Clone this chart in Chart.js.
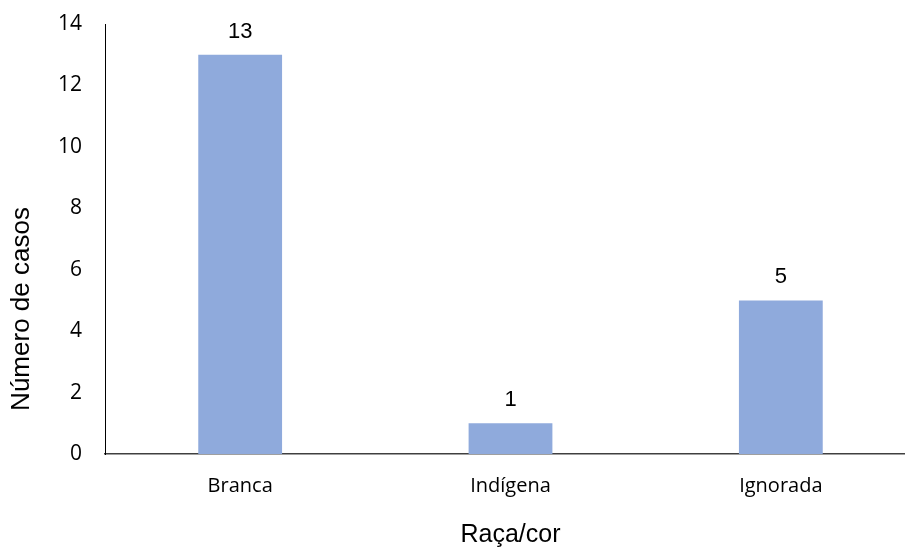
<!DOCTYPE html>
<html>
<head>
<meta charset="utf-8">
<script src="https://cdn.jsdelivr.net/npm/chart.js@4.4.1/dist/chart.umd.min.js"></script>
<style>
  html, body { margin: 0; padding: 0; background: #ffffff; overflow: hidden; }
  #wrap { width: 920px; height: 548px; }
</style>
</head>
<body>
<div id="wrap"><canvas id="chart" width="920" height="548"></canvas></div>
<script>
// Casos por raça/cor
const categories = ['Branca', 'Indígena', 'Ignorada'];
const casos = [13, 1, 5];
const yTicks = [0, 2, 4, 6, 8, 10, 12, 14];

const yTitle = 'Número de casos';
const xTitle = 'Raça/cor';

// Value labels above each bar, positioned from the bar elements
const valueLabels = {
  id: 'valueLabels',
  afterDatasetsDraw(chart) {
    const ctx = chart.ctx;
    const meta = chart.getDatasetMeta(0);
    ctx.save();
    ctx.font = '22px "Liberation Sans", Arial, sans-serif';
    ctx.fillStyle = '#000000';
    ctx.textAlign = 'center';
    ctx.textBaseline = 'alphabetic';
    meta.data.forEach((bar, i) => {
      ctx.fillText(String(chart.data.datasets[0].data[i]), bar.x, bar.y - 17);
    });
    ctx.restore();
  }
};

// Rotated caption for the value axis
const yCaption = {
  id: 'yCaption',
  afterDraw(chart) {
    const ctx = chart.ctx;
    ctx.save();
    ctx.translate(22, 309);
    ctx.rotate(-Math.PI / 2);
    ctx.font = '26px "Liberation Sans", Arial, sans-serif';
    ctx.fillStyle = '#000000';
    ctx.textAlign = 'center';
    ctx.textBaseline = 'middle';
    ctx.fillText(yTitle, 0, 0);
    ctx.restore();
  }
};

new Chart(document.getElementById('chart'), {
  type: 'bar',
  data: {
    labels: categories,
    datasets: [{
      data: casos,
      backgroundColor: '#8FAADC',
      borderWidth: 0,
      barPercentage: 0.31,
      categoryPercentage: 1.0
    }]
  },
  options: {
    responsive: false,
    animation: false,
    layout: { padding: { top: 24, right: 4, left: 0, bottom: 0 } },
    plugins: {
      legend: { display: false },
      tooltip: { enabled: false }
    },
    scales: {
      x: {
        grid: { display: false, drawTicks: false },
        border: { display: true, color: '#404040', width: 1.5 },
        ticks: {
          color: '#000000',
          font: { family: '"Open Sans", sans-serif', size: 20 },
          padding: 20
        },
        title: {
          display: true,
          text: xTitle,
          color: '#000000',
          font: { family: '"Liberation Sans", Arial, sans-serif', size: 25, lineHeight: 1.0 },
          padding: { top: 0, bottom: 0 }
        },
        afterFit(scale) {
          scale.height = 94;
          scale.paddingLeft = 0;
          scale.paddingRight = 0;
        }
      },
      y: {
        min: 0,
        max: 14,
        afterBuildTicks(scale) { scale.ticks = yTicks.map(v => ({ value: v })); },
        grid: { display: false, drawTicks: false },
        border: { display: true, color: '#000000', width: 1 },
        ticks: {
          color: '#000000',
          font: { family: '"Open Sans", sans-serif', size: 21 },
          padding: 23
        },
        afterFit(scale) {
          scale.width = 105;
          scale.paddingTop = 0;
          scale.paddingBottom = 0;
        }
      }
    }
  },
  plugins: [valueLabels, yCaption]
});
</script>
</body>
</html>
